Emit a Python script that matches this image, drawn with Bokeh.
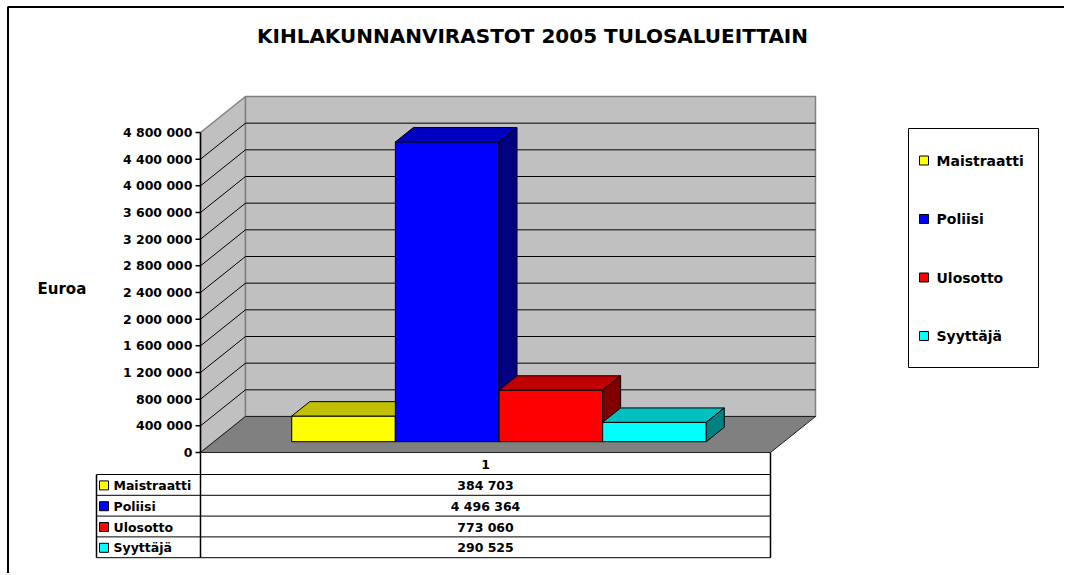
from bokeh.plotting import figure
from bokeh.models import Range1d
from bokeh.core.properties import value
from bokeh.embed import file_html
from bokeh.resources import INLINE

# ---------------- data ----------------
TITLE = "KIHLAKUNNANVIRASTOT 2005 TULOSALUEITTAIN"
Y_LABEL = "Euroa"
categories = ["1"]
series_names = ["Maistraatti", "Poliisi", "Ulosotto", "Syyttäjä"]
series_values = [384703, 4496364, 773060, 290525]
value_labels = ["384 703", "4 496 364", "773 060", "290 525"]
y_ticks = [0, 400000, 800000, 1200000, 1600000, 2000000, 2400000,
           2800000, 3200000, 3600000, 4000000, 4400000, 4800000]
y_tick_labels = ["0", "400 000", "800 000", "1 200 000", "1 600 000", "2 000 000",
                 "2 400 000", "2 800 000", "3 200 000", "3 600 000", "4 000 000",
                 "4 400 000", "4 800 000"]
front_colors = ["#FFFF00", "#0000FF", "#FF0000", "#00FFFF"]
top_colors = ["#C0C000", "#0000C0", "#C00000", "#00C0C0"]
side_colors = ["#808000", "#000080", "#800000", "#008080"]

# ---------------- layout (page pixels) ----------------
W, H = 1064, 573
PAGE_OFF = 0                            # where the canvas starts on the page
ORIGIN_X, ORIGIN_Y = 200, 452          # page px of (category start, value 0)
CAT_PX = 570                            # px per category
AXIS_PX = 320                           # px for the full value axis
VAL_PER_PX = y_ticks[-1] / AXIS_PX
YMAX = y_ticks[-1]


def gx(px):
    return 0.5 + (px - ORIGIN_X) / CAT_PX


def gy(py):
    return (ORIGIN_Y - py) * VAL_PER_PX


DX = 45 / CAT_PX            # depth offset, x
DY = 36 * VAL_PER_PX        # depth offset, y
Z0, Z1 = 0.3, 0.7           # bar depth range
FONT = value("DejaVu Sans")

p = figure(width=W, height=H, output_backend="svg", toolbar_location=None,
           x_range=Range1d(gx(PAGE_OFF), gx(PAGE_OFF + W)),
           y_range=Range1d(gy(PAGE_OFF + H), gy(PAGE_OFF)),
           x_axis_location=None, y_axis_location=None, min_border=0,
           outline_line_color=None, background_fill_color="white",
           border_fill_color="white")
p.xgrid.grid_line_color = None
p.ygrid.grid_line_color = None

# chart border (left and top)
p.segment(x0=[gx(7.5)], y0=[gy(6)], x1=[gx(7.5)], y1=[gy(PAGE_OFF + H)], line_color="black", line_width=2)
p.segment(x0=[gx(7.5)], y0=[gy(6.5)], x1=[gx(PAGE_OFF + W)], y1=[gy(6.5)], line_color="black", line_width=2)

# walls and floor
x_lo, x_hi = 0.5, 1.5
p.patch([x_lo, x_lo, x_lo + DX, x_lo + DX], [0, YMAX, YMAX + DY, DY],
        fill_color="#C0C0C0", line_color="#808080", line_width=1.5)
p.quad(left=[x_lo + DX], right=[x_hi + DX], bottom=[DY], top=[YMAX + DY],
       fill_color="#C0C0C0", line_color="#808080", line_width=1.5)
# gridlines
gt = y_ticks[1:-1]
p.segment(x0=[x_lo] * len(gt), y0=gt, x1=[x_lo + DX] * len(gt), y1=[t + DY for t in gt],
          line_color="black", line_width=1)
p.segment(x0=[x_lo + DX] * len(gt), y0=[t + DY for t in gt], x1=[x_hi + DX] * len(gt),
          y1=[t + DY for t in gt], line_color="black", line_width=1)
p.patch([x_lo, x_hi, x_hi + DX, x_lo + DX], [0, 0, DY, DY],
        fill_color="#808080", line_color="#202020", line_width=1)

# value axis
p.segment(x0=[x_lo], y0=[0], x1=[x_lo], y1=[YMAX], line_color="black", line_width=1.5)
p.segment(x0=[x_lo - 5 / CAT_PX] * len(y_ticks), y0=y_ticks, x1=[x_lo] * len(y_ticks),
          y1=y_ticks, line_color="black", line_width=1.5)
p.text(x=[x_lo - 8 / CAT_PX] * len(y_ticks), y=y_ticks, text=y_tick_labels,
       text_font=FONT, text_font_style="bold", text_font_size="12.5px",
       text_align="right", text_baseline="middle", text_color="black")

# bars (3D boxes)
n = len(series_values)
bw = 1.0 / (n + 1.5)
cat_center = 1.0
xs, ys, fills = [], [], []
for i, v in enumerate(series_values):
    x0 = cat_center - n * bw / 2 + i * bw
    x1 = x0 + bw
    ax, ay = Z0 * DX, Z0 * DY
    bx, by = Z1 * DX, Z1 * DY
    # front
    xs.append([x0 + ax, x1 + ax, x1 + ax, x0 + ax]); ys.append([ay, ay, v + ay, v + ay])
    fills.append(front_colors[i])
    # top
    xs.append([x0 + ax, x1 + ax, x1 + bx, x0 + bx]); ys.append([v + ay, v + ay, v + by, v + by])
    fills.append(top_colors[i])
    # side
    xs.append([x1 + ax, x1 + bx, x1 + bx, x1 + ax]); ys.append([ay, by, v + by, v + ay])
    fills.append(side_colors[i])
p.patches(xs=xs, ys=ys, fill_color=fills, line_color="black", line_width=1)

# title and axis label
p.text(x=[gx(532)], y=[gy(35)], text=[TITLE], text_font=FONT, text_font_style="bold",
       text_font_size="20px", text_align="center", text_baseline="middle", text_color="black")
p.text(x=[gx(37)], y=[gy(288)], text=[Y_LABEL], text_font=FONT, text_font_style="bold",
       text_font_size="15px", text_align="left", text_baseline="middle", text_color="black")

# data table
T_LEFT, T_RIGHT = gx(96), x_hi
HEADER_H, ROW_H = 22, 20.8
row_edges_px = [ORIGIN_Y + HEADER_H + k * ROW_H for k in range(n + 1)]
row_edges = [gy(r) for r in row_edges_px]
p.segment(x0=[T_LEFT] * len(row_edges), y0=row_edges, x1=[T_RIGHT] * len(row_edges),
          y1=row_edges, line_color="black", line_width=1)
p.segment(x0=[T_LEFT, x_lo, T_RIGHT], y0=[row_edges[0], 0, 0],
          x1=[T_LEFT, x_lo, T_RIGHT], y1=[row_edges[-1]] * 3, line_color="black", line_width=1.5)
p.text(x=[cat_center], y=[gy(ORIGIN_Y + HEADER_H / 2 + 1)], text=categories, text_font=FONT,
       text_font_style="bold", text_font_size="12.5px", text_align="center",
       text_baseline="middle", text_color="black")
row_mid = [gy(ORIGIN_Y + HEADER_H + (k + 0.5) * ROW_H + 0.5) for k in range(n)]
p.text(x=[cat_center] * n, y=row_mid, text=value_labels, text_font=FONT, text_font_style="bold",
       text_font_size="12.5px", text_align="center", text_baseline="middle", text_color="black")
p.rect(x=[gx(103.5)] * n, y=row_mid, width=9 / CAT_PX, height=9 * VAL_PER_PX,
       fill_color=front_colors, line_color="black", line_width=1)
p.text(x=[gx(113)] * n, y=row_mid, text=series_names, text_font=FONT, text_font_style="bold",
       text_font_size="12.5px", text_align="left", text_baseline="middle", text_color="black")

# legend
L_LEFT, L_RIGHT, L_TOP, L_BOTTOM = 908, 1038, 128, 367
p.quad(left=[gx(L_LEFT)], right=[gx(L_RIGHT)], top=[gy(L_TOP)], bottom=[gy(L_BOTTOM)],
       fill_color="white", line_color="black", line_width=1)
pitch = 58.5
leg_y = [gy(L_TOP + 32 + k * pitch) for k in range(n)]
p.rect(x=[gx(923.5)] * n, y=leg_y, width=9 / CAT_PX, height=9 * VAL_PER_PX,
       fill_color=front_colors, line_color="black", line_width=1)
p.text(x=[gx(936)] * n, y=leg_y, text=series_names, text_font=FONT, text_font_style="bold",
       text_font_size="14px", text_align="left", text_baseline="middle", text_color="black")

open("out.html", "w").write(file_html(p, INLINE))
